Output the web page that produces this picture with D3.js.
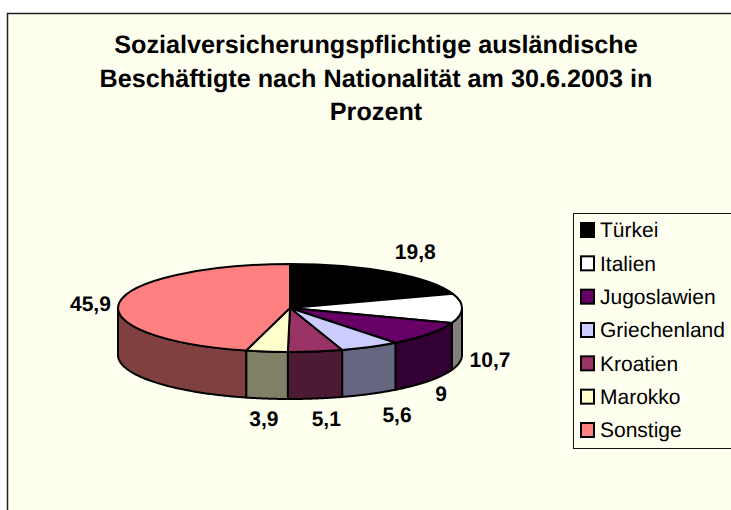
<!DOCTYPE html>
<html>
<head>
<meta charset="utf-8">
<script src="https://cdn.jsdelivr.net/npm/d3@7"></script>
<style>
body { margin: 0; background: #fff; overflow: hidden; }
svg { display: block; }
text { font-family: "Liberation Sans", Arial, sans-serif; fill: #000; text-rendering: geometricPrecision; }
</style>
</head>
<body>
<script>
var titleLines = ["Sozialversicherungspflichtige ausländische", "Beschäftigte nach Nationalität am 30.6.2003 in", "Prozent"];
var categories = ["Türkei", "Italien", "Jugoslawien", "Griechenland", "Kroatien", "Marokko", "Sonstige"];
var values = [19.8, 10.7, 9, 5.6, 5.1, 3.9, 45.9];
var valueLabels = ["19,8", "10,7", "9", "5,6", "5,1", "3,9", "45,9"];
var topColors = ["#000000", "#ffffff", "#660066", "#ccccff", "#993366", "#ffffcc", "#ff8080"];
var sideColors = ["#000000", "#808080", "#330033", "#666680", "#4d1a33", "#808066", "#804040"];
// nudges for the value labels, away from the rim of the pie
var labelDx = [25, 28, 12, 27, 11, -3, -29];
var labelDy = [-21, 4, 13, 21, 20, 20, 1];

var width = 731;
var height = 510;
var cx = 290;
var cy = 308;
var rx = 172;
var ry = 44;
var depth = 47;

var svg = d3.select("body").append("svg")
	.attr("width", width)
	.attr("height", height);

// chart frame, runs off the right and bottom of the picture
svg.append("rect")
	.attr("x", 7.5)
	.attr("y", 13.5)
	.attr("width", width + 20)
	.attr("height", height + 20)
	.attr("fill", "#fffff0")
	.attr("stroke", "#222")
	.attr("stroke-width", 1.5);

svg.selectAll("text.title")
	.data(titleLines)
	.enter()
	.append("text")
	.attr("class", "title")
	.attr("x", 376)
	.attr("y", function(d, i) { return 53 + i * 33.5; })
	.attr("text-anchor", "middle")
	.attr("font-size", 25.2)
	.attr("font-weight", "bold")
	.text(function(d) { return d; });

var pie = d3.pie().sort(null).startAngle(0).endAngle(2 * Math.PI);
var slices = pie(values);

function rimX(a) { return cx + rx * Math.sin(a); }
function rimY(a) { return cy - ry * Math.cos(a); }

var lineGen = d3.line();

// side wall of a slice, only the part on the front half of the pie
function sidePath(d) {
	var a0 = Math.max(d.startAngle, Math.PI / 2);
	var a1 = Math.min(d.endAngle, 3 * Math.PI / 2);
	if (a1 <= a0) return null;
	var angles = d3.range(0, 61).map(function(i) { return a0 + (a1 - a0) * i / 60; });
	var upper = angles.map(function(a) { return [rimX(a), rimY(a)]; });
	var lower = angles.slice().reverse().map(function(a) { return [rimX(a), rimY(a) + depth]; });
	return lineGen(upper.concat(lower)) + "Z";
}

svg.selectAll("path.side")
	.data(slices)
	.enter()
	.append("path")
	.attr("class", "side")
	.attr("d", sidePath)
	.attr("fill", function(d, i) { return sideColors[i]; })
	.attr("stroke", "#000")
	.attr("stroke-width", 2)
	.attr("stroke-linejoin", "round");

var arc = d3.arc().innerRadius(0).outerRadius(rx);

svg.append("g")
	.attr("transform", "translate(" + cx + "," + cy + ") scale(1," + (ry / rx) + ")")
	.selectAll("path")
	.data(slices)
	.enter()
	.append("path")
	.attr("d", arc)
	.attr("fill", function(d, i) { return topColors[i]; })
	.attr("stroke", "#000")
	.attr("stroke-width", 2)
	.attr("stroke-linejoin", "round")
	.attr("vector-effect", "non-scaling-stroke");

// value labels
svg.selectAll("text.value")
	.data(slices)
	.enter()
	.append("text")
	.attr("class", "value")
	.attr("x", function(d, i) { return rimX((d.startAngle + d.endAngle) / 2) + labelDx[i]; })
	.attr("y", function(d, i) {
		var mid = (d.startAngle + d.endAngle) / 2;
		var front = mid > Math.PI / 2 && mid < 3 * Math.PI / 2;
		return rimY(mid) + (front ? depth : 0) + labelDy[i];
	})
	.attr("dy", "0.35em")
	.attr("text-anchor", "middle")
	.attr("font-size", 21)
	.attr("font-weight", "bold")
	.text(function(d, i) { return valueLabels[i]; });

// legend
var legendY = d3.scalePoint().domain(categories).range([230, 430]);

svg.append("rect")
	.attr("x", 573.5)
	.attr("y", 213.5)
	.attr("width", width)
	.attr("height", 235)
	.attr("fill", "#fffff0")
	.attr("stroke", "#111")
	.attr("stroke-width", 1);

var legend = svg.selectAll("g.legend")
	.data(categories)
	.enter()
	.append("g")
	.attr("class", "legend")
	.attr("transform", function(d) { return "translate(0," + legendY(d) + ")"; });

legend.append("rect")
	.attr("x", 581)
	.attr("y", -7)
	.attr("width", 13)
	.attr("height", 14)
	.attr("fill", function(d, i) { return topColors[i]; })
	.attr("stroke", "#000")
	.attr("stroke-width", 2);

legend.append("text")
	.attr("x", 600)
	.attr("dy", "0.35em")
	.attr("font-size", 21)
	.text(function(d) { return d; });
</script>
</body>
</html>
